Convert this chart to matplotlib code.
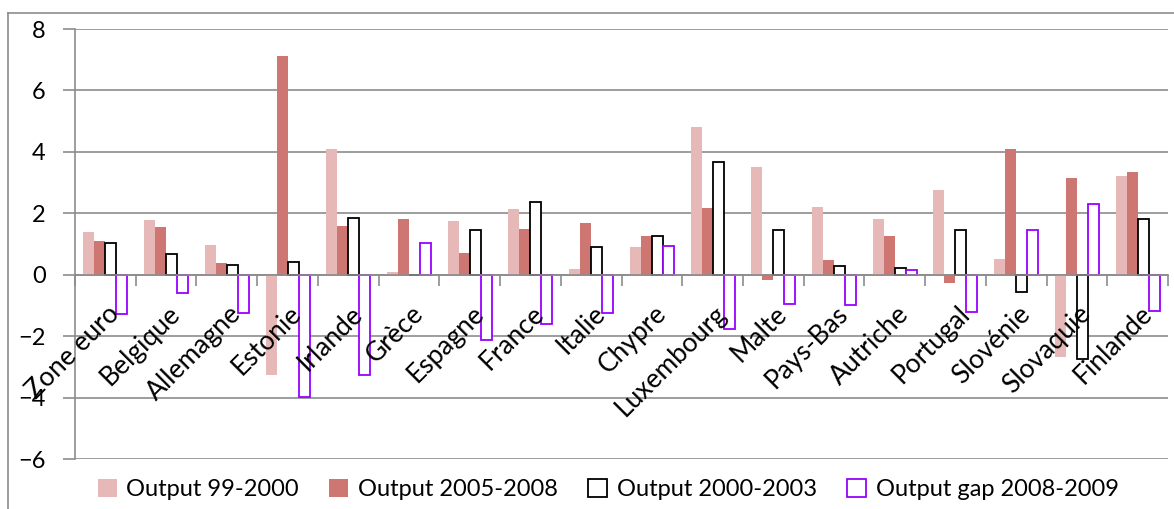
import matplotlib
matplotlib.use('Agg')
import matplotlib.pyplot as plt
import numpy as np
from matplotlib.lines import Line2D

pays = ['Zone euro', 'Belgique', 'Allemagne', 'Estonie', 'Irlande', 'Grèce', 'Espagne',
        'France', 'Italie', 'Chypre', 'Luxembourg', 'Malte', 'Pays-Bas', 'Autriche',
        'Portugal', 'Slovénie', 'Slovaquie', 'Finlande']
out_99_2000 = [1.39, 1.79, 0.96, -3.27, 4.09, 0.08, 1.76, 2.14, 0.18, 0.90, 4.80, 3.52,
               2.22, 1.82, 2.76, 0.52, -2.69, 3.20]
out_2005_2008 = [1.09, 1.55, 0.38, 7.13, 1.59, 1.82, 0.72, 1.50, 1.68, 1.26, 2.17, -0.18,
                 0.49, 1.27, -0.26, 4.10, 3.14, 3.36]
out_2000_2003 = [1.03, 0.68, 0.31, 0.42, 1.84, -0.02, 1.45, 2.38, 0.89, 1.25, 3.67, 1.47,
                 0.30, 0.23, 1.45, -0.56, -2.76, 1.81]
gap_2008_2009 = [-1.28, -0.59, -1.25, -3.99, -3.25, 1.04, -2.14, -1.59, -1.25, 0.92, -1.76,
                 -0.95, -1.00, 0.14, -1.21, 1.44, 2.30, -1.19]
noms = ['Output 99-2000', 'Output 2005-2008', 'Output 2000-2003', 'Output gap 2008-2009']

plt.rcParams['font.family'] = ['Lato', 'DejaVu Sans']
gris = '#8c8c8c'
rose = '#e6b8b7'
rouge = '#cd7672'
violet = '#9900ff'

fig = plt.figure(figsize=(11.74, 5.09), dpi=100)
ax = fig.add_axes([75/1174, 1-459/509, 1093/1174, 430/509])

x = np.arange(len(pays))
w = 0.181
ax.bar(x - 1.5*w, out_99_2000, w, color=rose, zorder=3, label=noms[0])
ax.bar(x - 0.5*w, out_2005_2008, w, color=rouge, zorder=3, label=noms[1])
ax.bar(x + 0.5*w, out_2000_2003, w, facecolor='white', edgecolor='black', linewidth=1.3,
       zorder=3, label=noms[2])
ax.bar(x + 1.5*w, gap_2008_2009, w, facecolor='white', edgecolor=violet, linewidth=1.3,
       zorder=3, label=noms[3])

ax.set_xlim(-0.5, len(pays) - 0.5)
ax.set_ylim(-6, 8)
ax.set_yticks(range(-6, 9, 2))
ax.yaxis.grid(True, color=gris, linewidth=1.2, zorder=0)
ax.tick_params(axis='y', length=9, width=1.2, color=gris, labelsize=17, pad=12)
ax.tick_params(axis='x', length=8, width=1.2, color=gris, direction='out')
for s in ['top', 'right']:
    ax.spines[s].set_visible(False)
ax.spines['left'].set_color(gris)
ax.spines['left'].set_linewidth(1.2)
ax.spines['bottom'].set_position(('data', 0))
ax.spines['bottom'].set_color(gris)
ax.spines['bottom'].set_linewidth(1.2)
ax.spines['bottom'].set_zorder(4)
ax.set_xticks(np.arange(len(pays) + 1) - 0.5)
ax.set_xticklabels([])

# etiquettes des pays, inclinees a 45 degres
for i, p in enumerate(pays):
    ax.annotate(p, xy=(i, 0), xytext=(1, -19), textcoords='offset points',
                ha='right', va='top', rotation=45, rotation_mode='anchor',
                fontsize=19, zorder=6)

fig.legend(loc='lower center', bbox_to_anchor=(0.518, -0.025), ncol=4, frameon=False,
           fontsize=17, handlelength=0.8, handleheight=0.8, handletextpad=0.4,
           columnspacing=1.3)

# cadre du graphique
fig.add_artist(Line2D([8/1174, 8/1174], [0, 1-13/509], color=gris, linewidth=1.2))
fig.add_artist(Line2D([8/1174, 1], [1-13/509, 1-13/509], color=gris, linewidth=1.2))

fig.savefig('out.png', dpi=100)
